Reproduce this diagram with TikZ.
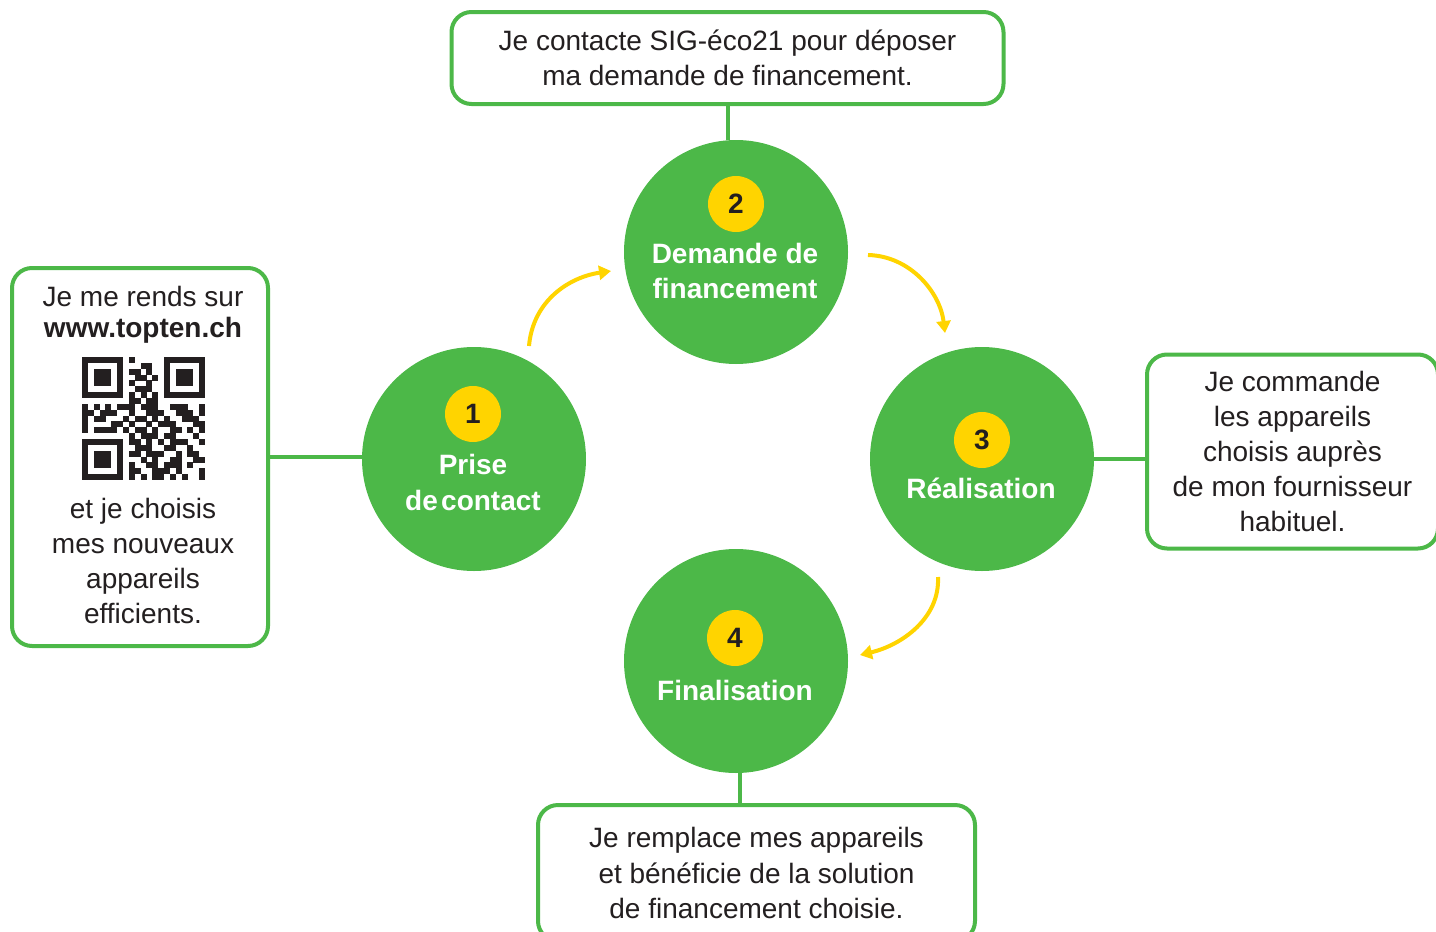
\documentclass[tikz,border=0pt]{standalone}
\usepackage{fontspec}
\setmainfont{Liberation Sans}
\usetikzlibrary{arrows.meta}
\definecolor{sgreen}{RGB}{76,184,72}
\definecolor{syellow}{RGB}{255,212,0}
\definecolor{sdark}{RGB}{35,31,32}
\begin{document}
\begin{tikzpicture}[x=0.5pt,y=-0.5pt,
  txt/.style={font=\fontsize{14}{17.6}\selectfont, text=sdark, align=center, inner sep=0pt},
  infobox/.style={draw=sgreen, line width=2pt, rounded corners=10pt, fill=white, txt},
  stepcircle/.style={circle, fill=sgreen, minimum size=112pt, inner sep=0pt},
  badge/.style={circle, fill=syellow, minimum size=28pt, inner sep=0pt, font=\bfseries\fontsize{14}{16}\selectfont, text=sdark},
  steptext/.style={font=\bfseries\fontsize{14}{17.6}\selectfont, text=white, align=center, inner sep=0pt},
  link/.style={draw=sgreen, line width=2pt},
  cyc/.style={draw=syellow, line width=2pt, -{Triangle[length=6pt,width=7pt]}}]
\useasboundingbox (0,0) rectangle (1436,932);
\clip (0,0) rectangle (1436,932);

% step circles
\node[stepcircle] (c1) at (474,459) {};
\node[stepcircle] (c2) at (736,252) {};
\node[stepcircle] (c3) at (982,459) {};
\node[stepcircle] (c4) at (736,661) {};

\node[badge] (n1) at (473,414) {1};
\node[badge] (n2) at (736,204) {2};
\node[badge] (n3) at (982,440) {3};
\node[badge] (n4) at (735,638) {4};

\node[steptext] (s1) at (473,482.5) {Prise\\de\hspace{0.12em}contact};
\node[steptext] (s2) at (735,271) {Demande de\\financement};
\node[steptext] (s3) at (981,488) {Réalisation};
\node[steptext] (s4) at (735,690) {Finalisation};

% info boxes
\node[infobox, minimum width=276pt, minimum height=46pt] (b2) at (727.5,58)
  {Je contacte SIG-éco21 pour déposer\\ma demande de financement.};
\node[infobox, minimum width=128pt, minimum height=189pt] (b1) at (140,457) {};
\node[txt, font=\fontsize{14}{15.5}\selectfont] (t1a) at (143,315) {Je me rends sur\\\textbf{www.topten.ch}};
\node[txt] (t1b) at (143,561) {et je choisis\\mes nouveaux\\appareils\\efficients.};
\node[infobox, minimum width=145.5pt, minimum height=97pt] (b3) at (1292.5,451.5)
  {Je commande\\les appareils\\choisis auprès\\de mon fournisseur\\habituel.};
\node[infobox, minimum width=218.5pt, minimum height=68pt] (b4) at (756.5,873)
  {Je remplace mes appareils\\et bénéficie de la solution\\de financement choisie.};

% QR code
\begin{scope}
\foreach \row [count=\r from 0] in {
 {1,1,1,1,1,1,1,0,1,0,0,0,0,0,1,1,1,1,1,1,1},
 {1,0,0,0,0,0,1,0,0,0,1,1,0,0,1,0,0,0,0,0,1},
 {1,0,1,1,1,0,1,0,1,1,0,1,0,0,1,0,1,1,1,0,1},
 {1,0,1,1,1,0,1,0,0,1,1,0,1,0,1,0,1,1,1,0,1},
 {1,0,1,1,1,0,1,0,1,0,0,1,0,0,1,0,1,1,1,0,1},
 {1,0,0,0,0,0,1,0,0,1,1,1,0,0,1,0,0,0,0,0,1},
 {1,1,1,1,1,1,1,0,1,0,1,0,1,0,1,1,1,1,1,1,1},
 {0,0,0,0,0,0,0,0,1,1,0,1,1,0,0,0,0,0,0,0,0},
 {1,0,1,0,1,0,1,1,1,0,1,1,1,0,0,1,1,1,0,0,1},
 {1,1,0,1,1,1,0,0,1,0,0,1,1,1,0,0,1,1,1,0,1},
 {1,0,1,1,0,0,0,1,0,1,1,0,1,0,1,0,0,1,1,1,0},
 {1,0,0,0,0,1,1,0,1,0,0,1,0,1,1,1,0,0,0,1,1},
 {1,0,1,1,1,1,0,1,0,1,1,0,1,0,0,1,1,0,1,0,1},
 {0,0,0,0,0,0,0,0,1,0,1,1,1,0,1,1,0,0,0,1,0},
 {1,1,1,1,1,1,1,0,1,1,0,1,0,1,0,1,1,1,0,0,1},
 {1,0,0,0,0,0,1,0,0,1,1,1,0,0,1,1,0,0,1,0,0},
 {1,0,1,1,1,0,1,0,1,1,0,1,1,1,0,0,1,0,1,1,0},
 {1,0,1,1,1,0,1,0,0,0,1,0,1,0,0,1,1,0,0,1,1},
 {1,0,1,1,1,0,1,0,1,0,0,1,1,0,1,1,1,0,1,0,0},
 {1,0,0,0,0,0,1,0,1,1,0,0,1,1,1,0,1,0,0,0,1},
 {1,1,1,1,1,1,1,0,1,0,1,0,1,1,0,1,0,1,0,0,1}} {
  \foreach \b [count=\c from 0] in \row {
    \ifnum\b=1 \fill[sdark] (82+\c*5.857,357+\r*5.857) rectangle ++(5.95,5.95);\fi
  }
}
\end{scope}

% connectors
\draw[link] (b2.south) -- (b2.south |- c2.north);
\draw[link] (b1.east) -- (b1.east -| c1.west);
\draw[link] (c3.east) -- (c3.east -| b3.west);
\draw[link] ([xshift=2pt]c4.south) -- ([xshift=2pt]c4.south |- b4.north);

% cycle arrows
\coordinate (a1s) at (529,346); \coordinate (a1e) at (611,271);
\coordinate (a2s) at (868,255); \coordinate (a2e) at (945,333);
\coordinate (a3s) at (938,577); \coordinate (a3e) at (860,655);
\draw[cyc] (a1s) .. controls (533,300) and (570,277) .. (a1e);
\draw[cyc] (a2s) .. controls (910,256) and (940,292) .. (a2e);
\draw[cyc] (a3s) .. controls (940,618) and (902,645) .. (a3e);
\end{tikzpicture}
\end{document}
